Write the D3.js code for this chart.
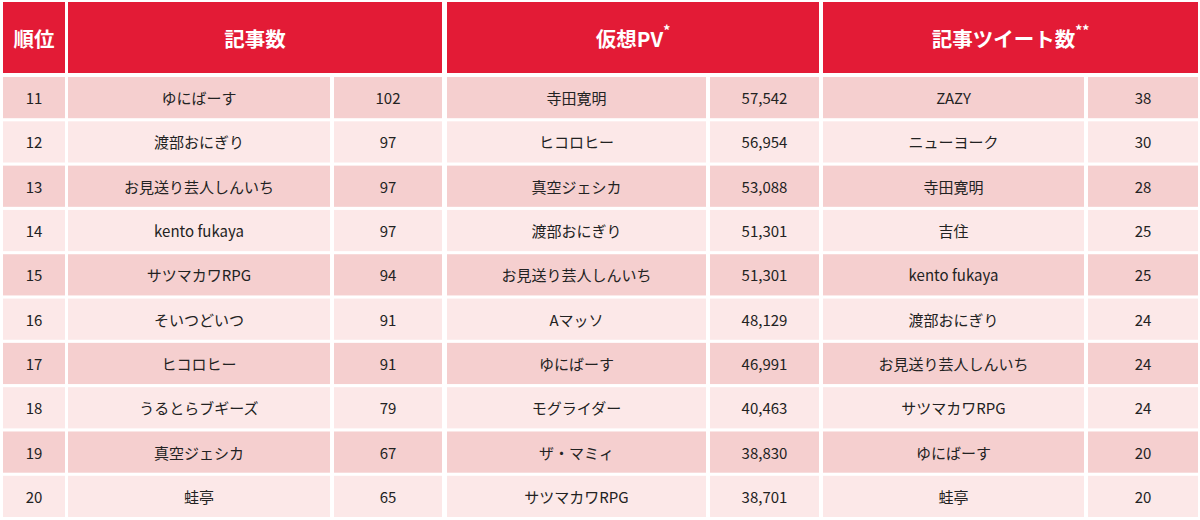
<!DOCTYPE html>
<html>
<head>
    <meta charset="utf-8">
    <title>ランキング 11-20位</title>
    <script src="https://d3js.org/d3.v7.min.js"></script>
    <style>
        body { margin: 0; background: #fff; }
        text { font-family: "Noto Sans CJK JP", "Noto Sans", sans-serif; }
    </style>
</head>
<body>
    <div id="chart"></div>
    <script>
        // data
        const ranks = [11, 12, 13, 14, 15, 16, 17, 18, 19, 20];
        const articleNames = ["ゆにばーす", "渡部おにぎり", "お見送り芸人しんいち", "kento fukaya", "サツマカワRPG",
            "そいつどいつ", "ヒコロヒー", "うるとらブギーズ", "真空ジェシカ", "蛙亭"];
        const articleCounts = [102, 97, 97, 97, 94, 91, 91, 79, 67, 65];
        const pvNames = ["寺田寛明", "ヒコロヒー", "真空ジェシカ", "渡部おにぎり", "お見送り芸人しんいち",
            "Aマッソ", "ゆにばーす", "モグライダー", "ザ・マミィ", "サツマカワRPG"];
        const pvValues = [57542, 56954, 53088, 51301, 51301, 48129, 46991, 40463, 38830, 38701];
        const tweetNames = ["ZAZY", "ニューヨーク", "寺田寛明", "吉住", "kento fukaya",
            "渡部おにぎり", "お見送り芸人しんいち", "サツマカワRPG", "ゆにばーす", "蛙亭"];
        const tweetCounts = [38, 30, 28, 25, 25, 24, 24, 24, 20, 20];
        const headers = [
            { text: "順位", sup: "" },
            { text: "記事数", sup: "" },
            { text: "仮想PV", sup: "*" },
            { text: "記事ツイート数", sup: "**" }
        ];

        const width = 1200, height = 520;
        const red = "#e31b36", dark = "#f5cfcf", light = "#fce8e8";

        // column blocks: x0, name/value split, x1
        const blocks = [
            { x0: 3, x1: 65 },
            { x0: 68, split: 332, x1: 442 },
            { x0: 447, split: 708, x1: 819 },
            { x0: 823, split: 1086, x1: 1198 }
        ];

        const svg = d3.select("#chart").append("svg")
            .attr("width", width)
            .attr("height", height);

        const y = d3.scaleBand()
            .domain(ranks)
            .range([77, 517])
            .paddingInner(0.07);

        // header
        const hd = svg.append("g");
        hd.selectAll("rect")
            .data(blocks)
            .join("rect")
            .attr("x", d => d.x0)
            .attr("y", 2)
            .attr("width", d => d.x1 - d.x0)
            .attr("height", 71)
            .attr("fill", red);

        const ht = hd.selectAll("text")
            .data(headers)
            .join("text")
            .attr("x", (d, i) => (blocks[i].x0 + blocks[i].x1) / 2)
            .attr("y", 38)
            .attr("text-anchor", "middle")
            .attr("dominant-baseline", "central")
            .attr("fill", "#fff")
            .attr("font-weight", "bold")
            .attr("font-size", 20.5);
        ht.append("tspan").text(d => d.text);
        ht.append("tspan")
            .attr("font-size", 14)
            .attr("dy", -8)
            .text(d => d.sup);

        const fmt = d3.format(",");
        const cols = [
            { names: articleNames, vals: articleCounts, b: blocks[1] },
            { names: pvNames, vals: pvValues.map(fmt), b: blocks[2] },
            { names: tweetNames, vals: tweetCounts, b: blocks[3] }
        ];

        // cells: rank, then name/value pairs
        const cells = [];
        ranks.forEach((r, i) => {
            cells.push({ r, i, x0: blocks[0].x0, x1: blocks[0].x1, label: r });
            cols.forEach(c => {
                cells.push({ r, i, x0: c.b.x0, x1: c.b.split - 2, label: c.names[i] });
                cells.push({ r, i, x0: c.b.split + 2, x1: c.b.x1, label: c.vals[i] });
            });
        });

        const body = svg.append("g");
        body.selectAll("rect")
            .data(cells)
            .join("rect")
            .attr("x", d => d.x0)
            .attr("y", d => y(d.r))
            .attr("width", d => d.x1 - d.x0)
            .attr("height", y.bandwidth())
            .attr("fill", d => d.i % 2 === 0 ? dark : light);

        body.selectAll("text")
            .data(cells)
            .join("text")
            .attr("x", d => (d.x0 + d.x1) / 2)
            .attr("y", d => y(d.r) + y.bandwidth() / 2)
            .attr("text-anchor", "middle")
            .attr("dominant-baseline", "central")
            .attr("fill", "#222")
            .attr("font-size", 15)
            .text(d => d.label);
    </script>
</body>
</html>
